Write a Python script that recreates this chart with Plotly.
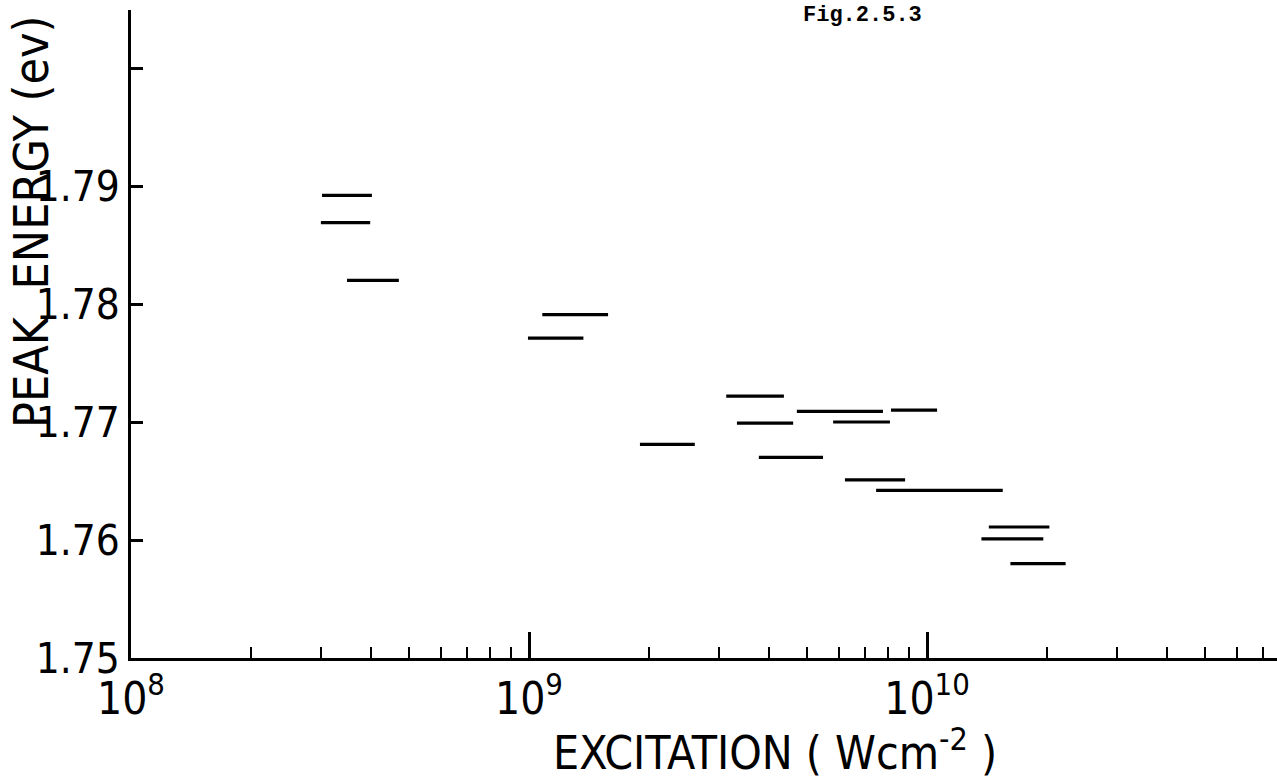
import plotly.graph_objects as go

# Horizontal segments: excitation range (W cm^-2) and peak energy (eV)
x_start = [3.02e8, 3.00e8, 3.49e8, 1.08e9, 9.94e8, 3.13e9, 4.71e9, 8.12e9, 3.33e9,
           5.81e9, 1.90e9, 3.78e9, 6.22e9, 7.45e9, 1.43e10, 1.37e10, 1.62e10]
x_end = [4.03e8, 3.99e8, 4.71e8, 1.58e9, 1.37e9, 4.37e9, 7.75e9, 1.06e10, 4.61e9,
         8.07e9, 2.61e9, 5.48e9, 8.81e9, 1.55e10, 2.03e10, 1.96e10, 2.23e10]
peak_energy = [1.7892, 1.7869, 1.7820, 1.7791, 1.7771, 1.7722, 1.7709, 1.7710, 1.7699,
               1.7700, 1.7681, 1.7670, 1.7651, 1.7642, 1.7611, 1.7601, 1.7580]

y_tickvals = [1.75, 1.76, 1.77, 1.78, 1.79, 1.80]
y_ticktext = ["1.75", "1.76", "1.77", "1.78", "1.79", ""]
x_tickvals = [1e8, 1e9, 1e10]
x_ticktext = ["10<sup>8</sup>", "10<sup>9</sup>", "10<sup>10</sup>"]
x_minor = [m * 10 ** e for e in (8, 9, 10) for m in range(2, 10) if m * 10 ** e < 7.6e10]

xs, ys = [], []
for a, b, e in zip(x_start, x_end, peak_energy):
    xs += [a, b, None]
    ys += [e, e, None]

FONT = "Liberation Sans Narrow, DejaVu Sans Condensed, Arial, sans-serif"

fig = go.Figure()
fig.add_trace(go.Scatter(x=xs, y=ys, mode="lines",
                         line=dict(color="black", width=3.2),
                         showlegend=False, hoverinfo="skip"))

W, H = 1277, 782
L, R, T, B = 131, 0, 10, 124
pw, ph = W - L - R, H - T - B


def px_x(px):
    return (px - 131) / pw


def px_y(py):
    return (658 - py) / ph


fig.update_layout(
    width=W, height=H,
    margin=dict(l=L, r=R, t=T, b=B),
    paper_bgcolor="white", plot_bgcolor="white",
    font=dict(family=FONT, color="black"),
    xaxis=dict(
        type="log", range=[8, 8 + pw / 398.0],
        showgrid=False, zeroline=False,
        showline=True, linecolor="black", linewidth=2.5,
        ticks="inside", ticklen=26, tickwidth=2.5, tickcolor="black",
        tickvals=x_tickvals, ticktext=x_ticktext,
        tickfont=dict(family=FONT, size=44),
        minor=dict(tickvals=x_minor, ticks="inside", ticklen=11,
                   tickwidth=2, tickcolor="black"),
    ),
    yaxis=dict(
        range=[1.75, 1.75 + ph / 11800.0],
        showgrid=False, zeroline=False,
        showline=True, linecolor="black", linewidth=2.5,
        ticks="inside", ticklen=12, tickwidth=2.5, tickcolor="black",
        tickvals=y_tickvals, ticktext=y_ticktext,
        tickfont=dict(family=FONT, size=42),
    ),
    annotations=[
        dict(text="PEAK  ENERGY (ev)", textangle=-90,
             xref="paper", yref="paper",
             x=px_x(31), y=px_y(222),
             xanchor="center", yanchor="middle", showarrow=False,
             font=dict(family=FONT, size=48, color="black")),
        dict(text="EXCITATION ( Wcm<sup>-2</sup> )",
             xref="paper", yref="paper",
             x=px_x(775), y=px_y(750),
             xanchor="center", yanchor="middle", showarrow=False,
             font=dict(family=FONT, size=46, color="black")),
        dict(text="<b>Fig.2.5.3</b>",
             xref="paper", yref="paper",
             x=px_x(862), y=px_y(15),
             xanchor="center", yanchor="middle", showarrow=False,
             font=dict(family="Liberation Mono, Courier New, monospace",
                       size=22, color="black")),
    ],
)

fig.write_html("out.html",
               config={"displayModeBar": False},
               post_script="document.body.style.margin='0';document.body.style.overflow='hidden';")
